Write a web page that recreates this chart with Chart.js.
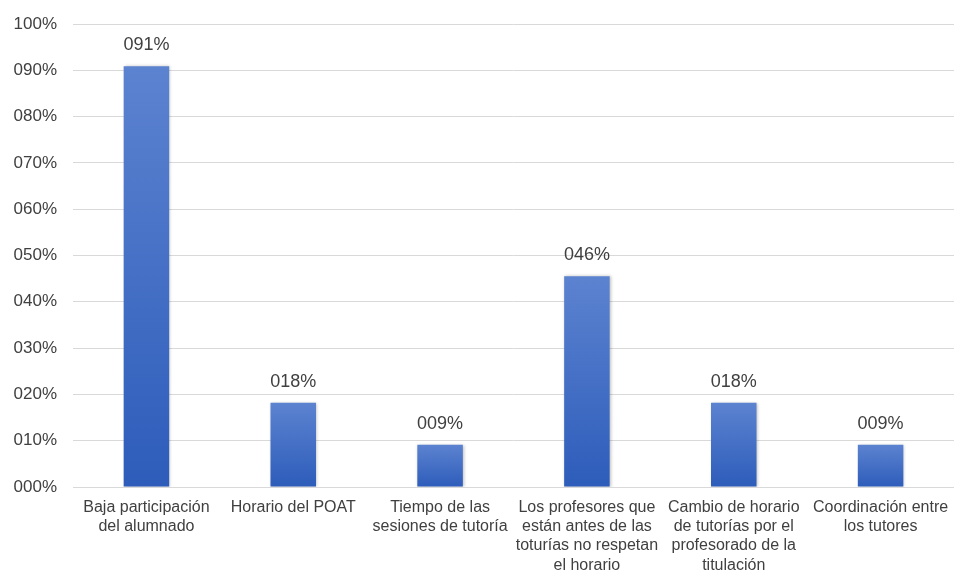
<!DOCTYPE html>
<html>
<head>
<meta charset="utf-8">
<script src="https://cdn.jsdelivr.net/npm/chart.js@4/dist/chart.umd.min.js"></script>
<style>
html,body{margin:0;padding:0;background:#fff;}
#wrap{width:954px;height:572px;position:relative;}
</style>
</head>
<body>
<div id="wrap"><canvas id="c" width="954" height="572"></canvas></div>
<script>
const categories = [
  ["Baja participación", "del alumnado"],
  ["Horario del POAT"],
  ["Tiempo de las", "sesiones de tutoría"],
  ["Los profesores que", "están antes de las", "toturías no respetan", "el horario"],
  ["Cambio de horario", "de tutorías por el", "profesorado de la", "titulación"],
  ["Coordinación entre", "los tutores"]
];
const values = [0.909, 0.182, 0.091, 0.455, 0.182, 0.091];
const yTicks = [0, 0.1, 0.2, 0.3, 0.4, 0.5, 0.6, 0.7, 0.8, 0.9, 1.0];

function fmtPct(v) {
  return String(Math.round(v * 100)).padStart(3, '0') + '%';
}

const FONT = "'Liberation Sans', Arial, sans-serif";
const TEXT = '#404040';

function barGradient(context) {
  const chart = context.chart;
  const ys = chart.scales && chart.scales.y;
  if (!chart.chartArea || !ys || context.dataIndex === undefined) return 'rgb(70,110,200)';
  const v = context.dataset.data[context.dataIndex];
  const top = ys.getPixelForValue(v);
  const base = ys.getPixelForValue(0);
  if (!isFinite(top) || !isFinite(base) || top === base) return 'rgb(70,110,200)';
  const g = chart.ctx.createLinearGradient(0, top, 0, base);
  g.addColorStop(0, 'rgb(92,131,208)');
  g.addColorStop(1, 'rgb(45,92,186)');
  return g;
}

const shadowPlugin = {
  id: 'barShadow',
  beforeDatasetDraw(chart) {
    const ctx = chart.ctx;
    ctx.save();
    ctx.shadowColor = 'rgba(0,0,0,0.25)';
    ctx.shadowBlur = 3;
    ctx.shadowOffsetX = 1;
    ctx.shadowOffsetY = 0;
  },
  afterDatasetDraw(chart) {
    chart.ctx.restore();
  }
};

const labelPlugin = {
  id: 'valueLabels',
  afterDatasetsDraw(chart) {
    const ctx = chart.ctx;
    const meta = chart.getDatasetMeta(0);
    ctx.save();
    ctx.font = '18px ' + FONT;
    ctx.fillStyle = TEXT;
    ctx.textAlign = 'center';
    ctx.textBaseline = 'bottom';
    meta.data.forEach((el, i) => {
      ctx.fillText(fmtPct(values[i]), el.x, el.y - 12);
    });
    ctx.restore();
  }
};

new Chart(document.getElementById('c'), {
  type: 'bar',
  data: {
    labels: categories,
    datasets: [{
      data: values,
      backgroundColor: barGradient,
      borderWidth: 0,
      barPercentage: 0.62,
      categoryPercentage: 0.5
    }]
  },
  options: {
    responsive: false,
    animation: false,
    devicePixelRatio: 1,
    layout: { padding: { top: 24, right: 0, left: 0, bottom: 0 } },
    plugins: {
      legend: { display: false },
      tooltip: { enabled: false }
    },
    scales: {
      x: {
        grid: { display: false, drawTicks: false },
        border: { display: true, color: '#d9d9d9', width: 1 },
        ticks: {
          color: TEXT,
          font: { family: FONT, size: 16, lineHeight: 1.2 },
          padding: 11,
          maxRotation: 0,
          autoSkip: false
        },
        afterFit(scale) {
          scale.height = 85;
          scale.paddingLeft = 0;
          scale.paddingRight = 0;
        }
      },
      y: {
        min: 0,
        max: 1,
        afterBuildTicks(scale) { scale.ticks = yTicks.map(v => ({ value: v })); },
        grid: { color: '#d9d9d9', drawTicks: false, lineWidth: 1 },
        border: { display: false },
        ticks: {
          color: TEXT,
          font: { family: FONT, size: 17 },
          padding: 16,
          callback: v => fmtPct(v)
        },
        afterFit(scale) {
          scale.width = 73;
          scale.paddingTop = 0;
          scale.paddingBottom = 0;
        }
      }
    }
  },
  plugins: [shadowPlugin, labelPlugin]
});
</script>
</body>
</html>
